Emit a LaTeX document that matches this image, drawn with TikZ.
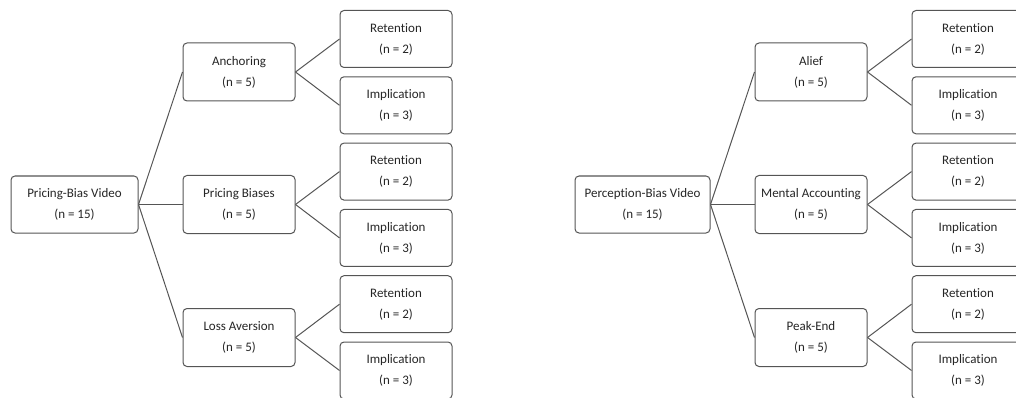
\documentclass[tikz,border=0pt]{standalone}
\usepackage{fontspec}
\setmainfont{Carlito}[Ligatures=NoCommon]
\definecolor{boxline}{HTML}{555555}
\definecolor{txt}{HTML}{262626}
\begin{document}
\begin{tikzpicture}[x=1pt,y=-1pt,
  bx/.style={draw=boxline,line width=1pt,rounded corners=4pt,fill=white,
    text=txt,align=center,inner sep=0pt,
    font=\fontsize{13}{21}\selectfont},
  rootbox/.style={bx,minimum height=57pt},
  midbox/.style={bx,minimum width=112pt,minimum height=58pt},
  leafbox/.style={bx,minimum width=112pt,minimum height=57pt},
  conn/.style={draw=boxline,line width=1pt}]
\useasboundingbox (0,0) rectangle (1016,398);
\clip (0,0) rectangle (1016,398);
% Left tree
\node[rootbox,minimum width=127pt] (r1) at (74.5,204.5) {Pricing-Bias Video\\(n = 15)};
\node[midbox] (m1) at (239,72) {Anchoring\\(n = 5)};
\node[midbox] (m2) at (239,204.5) {Pricing Biases\\(n = 5)};
\node[midbox] (m3) at (239,337.5) {Loss Aversion\\(n = 5)};
\node[leafbox] (l1) at (396,39) {Retention\\(n = 2)};
\node[leafbox] (l2) at (396,105.3) {Implication\\(n = 3)};
\node[leafbox] (l3) at (396,171.6) {Retention\\(n = 2)};
\node[leafbox] (l4) at (396,237.9) {Implication\\(n = 3)};
\node[leafbox] (l5) at (396,304.2) {Retention\\(n = 2)};
\node[leafbox] (l6) at (396,370.5) {Implication\\(n = 3)};
% Right tree
\node[rootbox,minimum width=135pt] (r2) at (642.5,204.5) {Perception-Bias Video\\(n = 15)};
\node[midbox] (n1) at (811,72) {Alief\\(n = 5)};
\node[midbox] (n2) at (811,204.5) {Mental Accounting\\(n = 5)};
\node[midbox] (n3) at (811,337.5) {Peak-End\\(n = 5)};
\node[leafbox] (k1) at (968,39) {Retention\\(n = 2)};
\node[leafbox] (k2) at (968,105.3) {Implication\\(n = 3)};
\node[leafbox] (k3) at (968,171.6) {Retention\\(n = 2)};
\node[leafbox] (k4) at (968,237.9) {Implication\\(n = 3)};
\node[leafbox] (k5) at (968,304.2) {Retention\\(n = 2)};
\node[leafbox] (k6) at (968,370.5) {Implication\\(n = 3)};
% connectors
\foreach \a/\b in {r1/m1,r1/m2,r1/m3,m1/l1,m1/l2,m2/l3,m2/l4,m3/l5,m3/l6,
                   r2/n1,r2/n2,r2/n3,n1/k1,n1/k2,n2/k3,n2/k4,n3/k5,n3/k6}
  \draw[conn] (\a.east) -- (\b.west);
\end{tikzpicture}
\end{document}
